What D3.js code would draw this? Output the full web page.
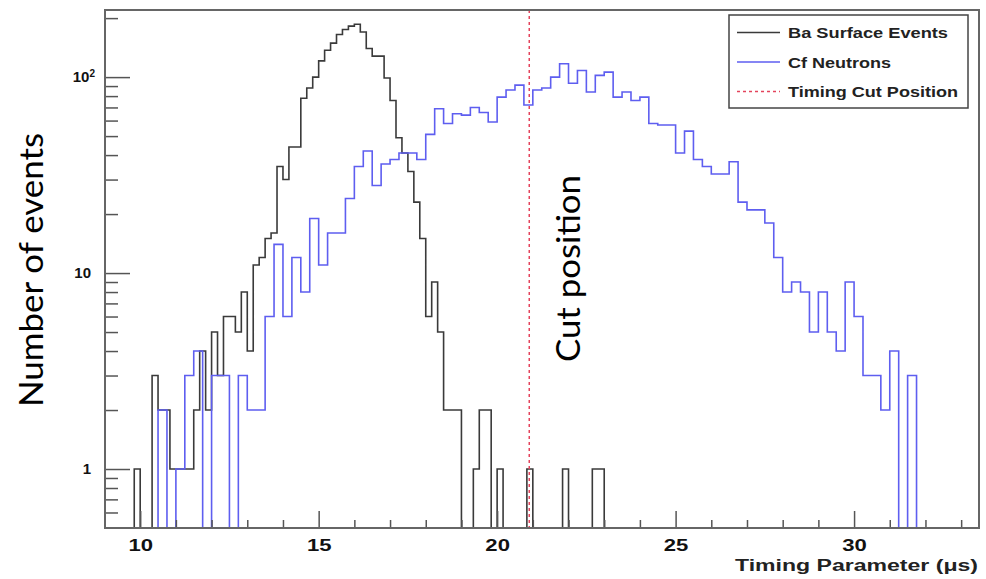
<!DOCTYPE html>
<html>
<head>
<meta charset="utf-8">
<style>
body { margin: 0; background: #fff; }
svg { display: block; }
.axis text { font-family: "Liberation Sans", Arial, sans-serif; font-weight: bold; fill: #111; }
.axis line { stroke: #555; stroke-width: 1.5; }
</style>
</head>
<body>
<svg width="986" height="579"></svg>
<script src="https://cdnjs.cloudflare.com/ajax/libs/d3/7.8.5/d3.min.js"></script>
<script>
// Ba surface events, bins of 1/6 us starting at 9.5 us
var baStart = 9.5, baWidth = 1 / 6;
var baCounts = [0,0,1,0,0,3,2,2,1,1,1,1,2,4,2,5,3,6,6,5,8,4,11,12,15,16,35,30,44,44,
  78,88,100,121,137,149,165,175,182,186,170,140,128,128,99,76,49,41,33,23,15,6,9,5,2,2,2,
  0,0,1,2,2,0,1,0,0,0,0,1,0,0,0,0,0,1,0,0,0,0,1,1,0];

// Cf neutrons, bins of 0.25 us starting at 10.5 us
var cfStart = 10.5, cfWidth = 0.25;
var cfCounts = [2,0,1,3,4,0,3,3,0,3,
  2,2,6,14,6,12,8,19,11,16,
  16,24,35,42,28,36,38,41,41,38,
  51,69,58,65,64,70,66,59,79,86,
  91,72,86,88,100,117,93,108,84,102,
  106,79,84,76,79,58,57,57,41,53,
  38,35,32,32,37,23,21,21,18,12,
  8,9,8,5,8,5,4,9,6,3,
  3,2,4,0,3];

var cutPosition = 20.9;
var xTicks = [10, 15, 20, 25, 30];
var xMinor = [11, 12, 13, 14, 16, 17, 18, 19, 21, 22, 23, 24, 26, 27, 28, 29, 31, 32, 33];
var yTicks = [1, 10, 100];
var yMinor = [0.6, 0.7, 0.8, 0.9, 2, 3, 4, 5, 6, 7, 8, 9, 20, 30, 40, 50, 60, 70, 80, 90, 200];
var legendLabels = ["Ba Surface Events", "Cf Neutrons", "Timing Cut Position"];

var svg = d3.select("svg"),
    frame = {left: 105, right: 979, top: 10, bottom: 528},
    yMin = 0.5;

var x = d3.scaleLinear().domain([9, 33.5]).range([frame.left - 0.5, frame.right]);
var y = d3.scaleLog().domain([yMin, 220]).range([frame.bottom, frame.top]);

svg.append("clipPath").attr("id", "frameClip")
  .append("rect")
    .attr("x", frame.left).attr("y", frame.top)
    .attr("width", frame.right - frame.left).attr("height", frame.bottom - frame.top);

function stepPoints(start, width, counts) {
  var pts = [[start, yMin]];
  counts.forEach(function(c, i) {
    var v = Math.max(c, yMin);
    pts.push([start + i * width, v], [start + (i + 1) * width, v]);
  });
  pts.push([start + counts.length * width, yMin]);
  return pts;
}

var line = d3.line()
    .x(function(d) { return x(d[0]); })
    .y(function(d) { return y(d[1]); });

var plot = svg.append("g").attr("clip-path", "url(#frameClip)");

plot.append("path")
    .attr("d", line(stepPoints(baStart, baWidth, baCounts)))
    .attr("fill", "none").attr("stroke", "#3a3a3a").attr("stroke-width", 1.6);

plot.append("path")
    .attr("d", line(stepPoints(cfStart, cfWidth, cfCounts)))
    .attr("fill", "none").attr("stroke", "#5e5ef0").attr("stroke-width", 1.6);

plot.append("line")
    .attr("x1", x(cutPosition)).attr("x2", x(cutPosition))
    .attr("y1", frame.top).attr("y2", frame.bottom)
    .attr("stroke", "#e4445c").attr("stroke-width", 1.5).attr("stroke-dasharray", "3,3");

// axes (ticks drawn inward, ROOT style)
var gx = svg.append("g").attr("class", "axis")
    .attr("transform", "translate(0," + frame.bottom + ")")
    .call(d3.axisBottom(x).tickValues(xTicks).tickSize(-17).tickSizeOuter(0).tickPadding(11));
gx.selectAll("text").style("font-size", "17px").attr("transform", "scale(1.3,1)");
svg.append("g").attr("class", "axis")
    .attr("transform", "translate(0," + frame.bottom + ")")
    .call(d3.axisBottom(x).tickValues(xMinor).tickSize(-8).tickSizeOuter(0).tickFormat(""));

var gy = svg.append("g").attr("class", "axis")
    .attr("transform", "translate(" + frame.left + ",0)")
    .call(d3.axisLeft(y).tickValues(yTicks).tickSize(-25).tickSizeOuter(0).tickPadding(14)
      .tickFormat(function(d) { return d === 100 ? "10" : String(d); }));
gy.selectAll("text").style("font-size", "15px");
gy.selectAll(".tick").filter(function(d) { return d === 100; }).select("text")
    .attr("x", -10)
  .append("tspan")
    .attr("dy", "-0.55em").style("font-size", "10px").text("2");
svg.append("g").attr("class", "axis")
    .attr("transform", "translate(" + frame.left + ",0)")
    .call(d3.axisLeft(y).tickValues(yMinor).tickSize(-13).tickSizeOuter(0).tickFormat(""));

svg.selectAll(".axis .domain").remove();

svg.append("rect")
    .attr("x", frame.left).attr("y", frame.top)
    .attr("width", frame.right - frame.left).attr("height", frame.bottom - frame.top)
    .attr("fill", "none").attr("stroke", "#666").attr("stroke-width", 2);

svg.append("text")
    .attr("x", 735).attr("y", 571)
    .attr("textLength", 243).attr("lengthAdjust", "spacingAndGlyphs")
    .style("font-family", "'Liberation Sans', Arial, sans-serif")
    .style("font-weight", "bold").style("font-size", "16px").style("fill", "#222")
    .text("Timing Parameter (\u03bcs)");

// legend
var legend = svg.append("g");
legend.append("rect")
    .attr("x", 729).attr("y", 15).attr("width", 239).attr("height", 93)
    .attr("fill", "#fff").attr("stroke", "#444").attr("stroke-width", 1.5);

var legendStyles = [
  {color: "#3a3a3a", dash: null, len: 160},
  {color: "#5e5ef0", dash: null, len: 103},
  {color: "#e4445c", dash: "3,3", len: 170}
];
var rowY = d3.scalePoint().domain(legendLabels).range([32.5, 91.5]);

var entry = legend.selectAll(".entry")
    .data(legendLabels)
    .enter().append("g")
      .attr("class", "entry")
      .attr("transform", function(d) { return "translate(0," + rowY(d) + ")"; });

entry.append("line")
    .attr("x1", 737).attr("x2", 780)
    .attr("stroke", function(d, i) { return legendStyles[i].color; })
    .attr("stroke-width", 1.3)
    .attr("stroke-dasharray", function(d, i) { return legendStyles[i].dash; });

entry.append("text")
    .attr("x", 788).attr("y", 5.5)
    .attr("textLength", function(d, i) { return legendStyles[i].len; })
    .attr("lengthAdjust", "spacingAndGlyphs")
    .style("font-family", "'Liberation Sans', Arial, sans-serif")
    .style("font-weight", "bold").style("font-size", "15px").style("fill", "#222")
    .text(function(d) { return d; });

// annotations
svg.append("text")
    .attr("transform", "translate(43,270) rotate(-90)")
    .attr("text-anchor", "middle")
    .attr("textLength", 274).attr("lengthAdjust", "spacingAndGlyphs")
    .style("font-family", "Lato, 'Open Sans', sans-serif").style("font-size", "33px").style("fill", "#000")
    .text("Number of events");

svg.append("text")
    .attr("transform", "translate(580,268.5) rotate(-90)")
    .attr("text-anchor", "middle")
    .attr("textLength", 187).attr("lengthAdjust", "spacingAndGlyphs")
    .style("font-family", "Lato, 'Open Sans', sans-serif").style("font-size", "33px").style("fill", "#000")
    .text("Cut position");
</script>
</body>
</html>
